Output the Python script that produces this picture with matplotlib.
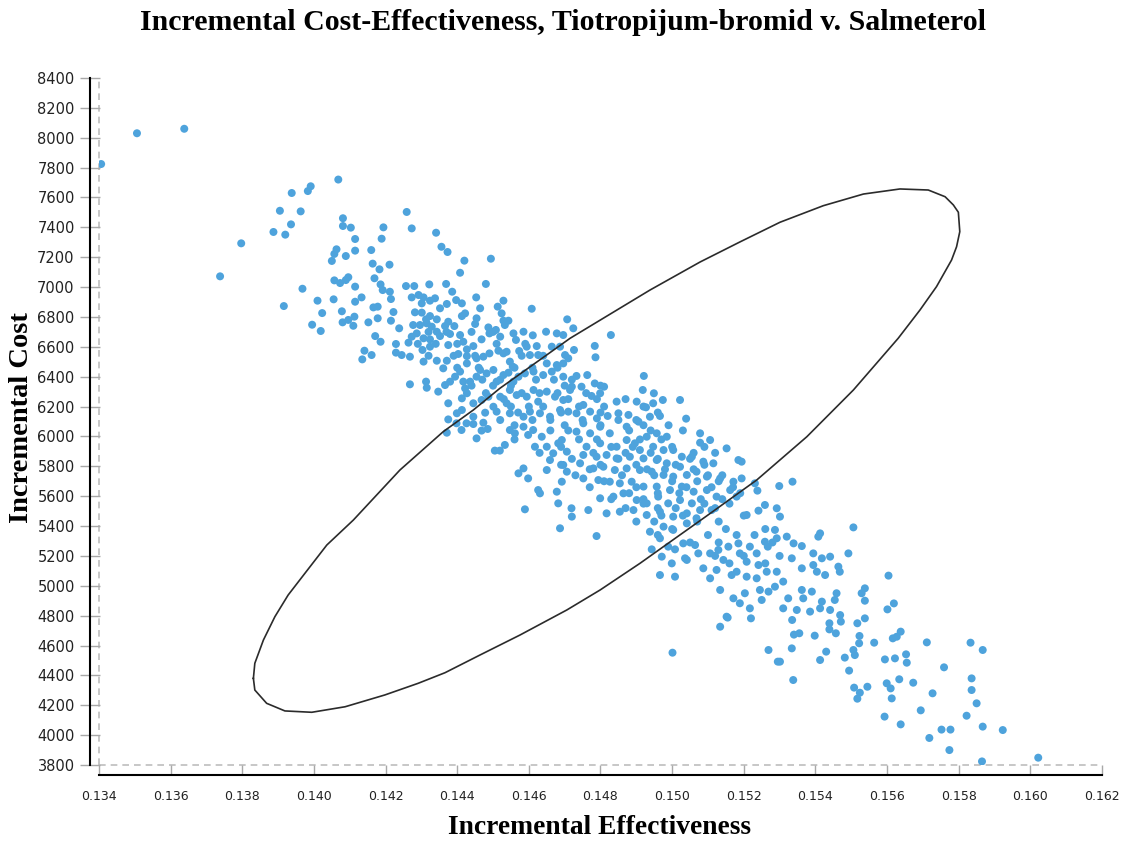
import matplotlib.pyplot as plt

# upper-left tail of the bootstrap cloud
tail_eff = [0.13406, 0.13506, 0.13638, 0.14068, 0.13991, 0.13983, 0.13938, 0.13905, 0.13963, 0.14081,
            0.14081, 0.14103, 0.13936, 0.13887, 0.13920, 0.13797, 0.14115, 0.14063, 0.14057, 0.14050,
            0.14089, 0.14115, 0.13738, 0.14057, 0.14073, 0.14096, 0.14089, 0.14115, 0.13968, 0.13916,
            0.14010, 0.14055, 0.14115, 0.14023, 0.14078, 0.13995, 0.14019, 0.14080, 0.14096, 0.14113,
            0.14110]
tail_cost = [7824, 8030, 8060, 7720, 7675, 7643, 7630, 7511, 7507, 7461,
             7409, 7398, 7420, 7369, 7351, 7293, 7322, 7253, 7222, 7175,
             7208, 7244, 7072, 7045, 7027, 7066, 7047, 7003, 6989, 6873,
             6909, 6918, 6902, 6826, 6838, 6748, 6706, 6764, 6780, 6802,
             6741]

# dense core
core_eff = [0.14259, 0.14194, 0.14273, 0.14341, 0.14189, 0.14160, 0.14356, 0.14373, 0.14420, 0.14494,
            0.14164, 0.14183, 0.14211, 0.14408, 0.14169, 0.14186, 0.14192, 0.14212, 0.14133, 0.14257,
            0.14280, 0.14322, 0.14369, 0.14480, 0.14386, 0.14453, 0.14215, 0.14273, 0.14292, 0.14306,
            0.14324, 0.14338, 0.14301, 0.14352, 0.14371, 0.14397, 0.14413, 0.14464, 0.14513, 0.14529,
            0.14608, 0.14166, 0.14178, 0.14222, 0.14178, 0.14152, 0.14215, 0.14282, 0.14301, 0.14324,
            0.14313, 0.14343, 0.14366, 0.14375, 0.14392, 0.14413, 0.14422, 0.14450, 0.14454, 0.14487,
            0.14524, 0.14529, 0.14543, 0.14238, 0.14277, 0.14296, 0.14315, 0.14329, 0.14343, 0.14171,
            0.14186, 0.14229, 0.14264, 0.14273, 0.14287, 0.14306, 0.14324, 0.14352, 0.14380, 0.14375,
            0.14408, 0.14417, 0.14427, 0.14445, 0.14468, 0.14490, 0.14508, 0.14520, 0.14533, 0.14557,
            0.14564, 0.14585, 0.14611, 0.14622, 0.14648, 0.14664, 0.14678, 0.14696, 0.14707, 0.14687,
            0.14701, 0.14141, 0.14161, 0.14135, 0.14229, 0.14245, 0.14268, 0.14303, 0.14324, 0.14306,
            0.14343, 0.14371, 0.14403, 0.14361, 0.14427, 0.14427, 0.14454, 0.14473, 0.14490, 0.14515,
            0.14529, 0.14538, 0.14547, 0.14555, 0.14573, 0.14594, 0.14603, 0.14626, 0.14650, 0.14678,
            0.14696, 0.14710, 0.14268, 0.14313, 0.14315, 0.14347, 0.14366, 0.14380, 0.14394, 0.14408,
            0.14417, 0.14422, 0.14436, 0.14454, 0.14464, 0.14482, 0.14501, 0.14510, 0.14529, 0.14543,
            0.14557, 0.14571, 0.14589, 0.14613, 0.14640, 0.14664, 0.14696, 0.14375, 0.14413, 0.14427,
            0.14445, 0.14468, 0.14487, 0.14501, 0.14520, 0.14538, 0.14547, 0.14566, 0.14594, 0.14613,
            0.14626, 0.14650, 0.14673, 0.14696, 0.14715, 0.14375, 0.14399, 0.14413, 0.14445, 0.14478,
            0.14510, 0.14547, 0.14585, 0.14603, 0.14631, 0.14659, 0.14687, 0.14710,
            0.14724, 0.14829, 0.14784, 0.14786, 0.14726, 0.14763, 0.14784, 0.14799, 0.14775, 0.14810,
            0.14733, 0.14747, 0.14720, 0.14921, 0.14918, 0.14949, 0.14901, 0.14927, 0.14974, 0.15022,
            0.14947, 0.14845, 0.14850, 0.14820, 0.14878, 0.15039, 0.14966, 0.14752, 0.14733, 0.14771,
            0.14790, 0.14938,
            0.14547, 0.14533, 0.14585, 0.14598, 0.14612, 0.14636, 0.14561, 0.14617, 0.14650, 0.14682,
            0.14668, 0.14706, 0.14692, 0.14659, 0.14650, 0.14585, 0.14598, 0.14571, 0.14626, 0.14631,
            0.14678, 0.14692, 0.14706, 0.14589, 0.14682, 0.14719, 0.14766, 0.14720, 0.14696, 0.14743,
            0.14752, 0.14733, 0.14771, 0.14799, 0.14826, 0.14873, 0.14906, 0.14929, 0.14957, 0.14985,
            0.15078, 0.15106, 0.15152, 0.15078, 0.14761, 0.14799, 0.14845, 0.14873, 0.14896, 0.14910,
            0.14947, 0.14976, 0.15003, 0.15027, 0.15055, 0.15087, 0.15115, 0.15185, 0.14752, 0.14789,
            0.14817, 0.14845, 0.14882, 0.14920, 0.14957, 0.14985, 0.15022, 0.14780, 0.14808, 0.14840,
            0.14873, 0.14910, 0.14943, 0.14976, 0.15003, 0.15041, 0.15068, 0.15097, 0.15134, 0.15171,
            0.14752, 0.14794, 0.14826, 0.14854, 0.14887, 0.14920, 0.14957, 0.14994, 0.15027, 0.15060,
            0.15097, 0.15124, 0.15162, 0.15180, 0.14799, 0.14836, 0.14864, 0.14901, 0.14929, 0.14961,
            0.14989, 0.15022, 0.15055, 0.15078, 0.15110, 0.14817, 0.14854, 0.14892, 0.14929, 0.14966,
            0.15003, 0.15041, 0.15068,
            0.14398, 0.14371, 0.14412, 0.14426, 0.14445, 0.14454, 0.14468, 0.14473, 0.14485, 0.14505,
            0.14519, 0.14789, 0.14687]
core_cost = [7503, 7400, 7393, 7364, 7324, 7248, 7270, 7235, 7177, 7190,
             7157, 7119, 7150, 7096, 7059, 7018, 6980, 6969, 6931, 7007,
             7007, 7018, 7021, 7021, 6969, 6931, 6920, 6931, 6947, 6931,
             6909, 6925, 6891, 6858, 6887, 6913, 6891, 6858, 6869, 6909,
             6855, 6864, 6869, 6833, 6791, 6764, 6775, 6831, 6829, 6806,
             6784, 6784, 6739, 6768, 6739, 6806, 6824, 6753, 6791, 6730,
             6824, 6775, 6775, 6724, 6746, 6746, 6757, 6735, 6701, 6672,
             6634, 6619, 6628, 6668, 6690, 6657, 6650, 6672, 6686, 6612,
             6679, 6634, 6583, 6605, 6650, 6690, 6713, 6668, 6746, 6690,
             6646, 6701, 6677, 6605, 6701, 6601, 6690, 6679, 6784, 6601,
             6545, 6574, 6545, 6516, 6561, 6545, 6534, 6579, 6601, 6501,
             6507, 6507, 6552, 6456, 6538, 6489, 6523, 6534, 6556, 6574,
             6556, 6567, 6501, 6467, 6572, 6601, 6545, 6545, 6489, 6478,
             6489, 6523, 6349, 6367, 6326, 6300, 6344, 6367, 6400, 6434,
             6367, 6322, 6367, 6400, 6445, 6422, 6445, 6367, 6411, 6427,
             6367, 6400, 6422, 6434, 6411, 6434, 6400, 6222, 6255, 6289,
             6222, 6244, 6266, 6199, 6266, 6222, 6311, 6277, 6266, 6311,
             6233, 6300, 6266, 6244, 6311, 6114, 6155, 6177, 6132, 6159,
             6166, 6155, 6132, 6166, 6155, 6132, 6177, 6166,
             6724, 6679, 6606, 6530, 6579, 6411, 6355, 6289, 6271, 6333,
             6405, 6333, 6333, 6405, 6311, 6289, 6233, 6195, 6244, 6244,
             6222, 6233, 6155, 6137, 6144, 6119, 6137, 6211, 6155, 6166,
             6121, 6132,
             6043, 5943, 6065, 6010, 6043, 5998, 6021, 5931, 5931, 5954,
             5887, 5898, 5976, 5842, 5775, 5786, 5719, 5753, 5641, 5619,
             5630, 5697, 5764, 5512, 5552, 5519, 5507, 5463, 5809, 5820,
             6088, 6032, 6021, 6065, 6021, 6065, 6099, 5998, 6021, 5998,
             6021, 5976, 5920, 5958, 5931, 5954, 5931, 5976, 5954, 5909,
             5931, 5909, 5909, 5864, 5864, 5831, 5820, 5842, 5876, 5864,
             5876, 5853, 5864, 5853, 5842, 5820, 5797, 5786, 5797, 5775,
             5786, 5775, 5764, 5742, 5731, 5742, 5764, 5731, 5719, 5697,
             5719, 5708, 5697, 5686, 5697, 5664, 5664, 5641, 5664, 5630,
             5641, 5597, 5641, 5597, 5586, 5597, 5619, 5574, 5552, 5597,
             5552, 5574, 5552, 5507, 5507, 5485, 5496, 5507, 5474, 5496,
             5463, 5485, 5452,
             6088, 6025, 6043, 6088, 6083, 5987, 6039, 6092, 6050, 5905,
             5905, 5333, 5385]

# extra points where the core is packed solid
pack_eff = [0.1447, 0.1452, 0.1462, 0.1467, 0.1472,
            0.1448, 0.1458, 0.1463, 0.1468, 0.1476,
            0.1455, 0.1460, 0.1464, 0.1474, 0.1481, 0.1492,
            0.1452, 0.1461, 0.1466, 0.1475, 0.1485, 0.1490,
            0.1466, 0.1471, 0.1488, 0.1494, 0.1503,
            0.1456, 0.1474, 0.1479, 0.1491, 0.1497,
            0.1463, 0.1478, 0.1487, 0.1494, 0.1506, 0.1512,
            0.1469, 0.1480, 0.1490, 0.1501, 0.1509,
            0.1473, 0.1486, 0.1495, 0.1510, 0.1514,
            0.1477, 0.1490, 0.1504, 0.1511, 0.1517,
            0.1483, 0.1492, 0.1508, 0.1514,
            0.1487, 0.1496, 0.1501, 0.1512,
            0.1490, 0.1495, 0.1507, 0.1513,
            0.1496, 0.1510, 0.1518, 0.1523,
            0.1512, 0.1520, 0.1530,
            0.1432, 0.1437, 0.1444, 0.1450,
            0.1429, 0.1434, 0.1440, 0.1451, 0.1459,
            0.1432, 0.1439, 0.1445, 0.1458, 0.1464,
            0.1440, 0.1446, 0.1456, 0.1461, 0.1468,
            0.1444, 0.1450, 0.1455, 0.1470, 0.1480,
            0.1453, 0.1471, 0.1479, 0.1487,
            0.1457, 0.1469, 0.1480, 0.1496,
            0.1456, 0.1470, 0.1480, 0.1492, 0.1499,
            0.1469, 0.1483, 0.1489, 0.1500, 0.1509,
            0.1472, 0.1485, 0.1496, 0.1505,
            0.1477, 0.1493, 0.1498, 0.1506,
            0.1481, 0.1500, 0.1507, 0.1513,
            0.1488, 0.1496, 0.1502, 0.1519,
            0.1492, 0.1509, 0.1516,
            0.1497, 0.1503, 0.1520,
            0.1500, 0.1515, 0.1526,
            0.1505, 0.1513, 0.1528,
            0.1516, 0.1526]
pack_cost = [6380, 6380, 6380, 6380, 6380,
             6290, 6290, 6290, 6290, 6290,
             6200, 6200, 6200, 6200, 6200, 6200,
             6110, 6110, 6110, 6110, 6110, 6110,
             6040, 6040, 6040, 6040, 6040,
             5980, 5980, 5980, 5980, 5980,
             5890, 5890, 5890, 5890, 5890, 5890,
             5810, 5810, 5810, 5810, 5810,
             5740, 5740, 5740, 5740, 5740,
             5660, 5660, 5660, 5660, 5660,
             5580, 5580, 5580, 5580,
             5520, 5520, 5520, 5520,
             5430, 5430, 5430, 5430,
             5340, 5340, 5340, 5340,
             5200, 5200, 5200,
             6700, 6700, 6700, 6700,
             6620, 6620, 6620, 6620, 6620,
             6540, 6540, 6540, 6540, 6540,
             6460, 6460, 6460, 6460, 6460,
             6340, 6340, 6340, 6340, 6340,
             6250, 6250, 6250, 6250,
             6160, 6160, 6160, 6160,
             6075, 6075, 6075, 6075, 6075,
             5930, 5930, 5930, 5930, 5930,
             5850, 5850, 5850, 5850,
             5780, 5780, 5780, 5780,
             5700, 5700, 5700, 5700,
             5620, 5620, 5620, 5620,
             5550, 5550, 5550,
             5470, 5470, 5470,
             5380, 5380, 5380,
             5290, 5290, 5290,
             5150, 5150]

# lower-right tail
low_eff = [0.15194, 0.15194, 0.15231, 0.15238, 0.15299, 0.15336, 0.15259, 0.15241, 0.15208, 0.15292,
           0.15301, 0.14938, 0.14976, 0.15003, 0.15041, 0.14966, 0.14989, 0.15031, 0.15064, 0.14943,
           0.14971, 0.15008, 0.14999, 0.15036, 0.15073, 0.15106, 0.15087, 0.15129, 0.15143, 0.15157,
           0.15185, 0.15189, 0.15217, 0.15236, 0.15259, 0.15267, 0.15287, 0.15292, 0.15320, 0.15339,
           0.15362, 0.15408, 0.15413, 0.15506, 0.15492, 0.15441, 0.15394, 0.15418, 0.15464, 0.15468,
           0.15362, 0.15394, 0.15334, 0.15292, 0.15264, 0.15241, 0.15208, 0.15180, 0.15166, 0.15208,
           0.15236, 0.15124, 0.15106, 0.15041, 0.15008, 0.14966, 0.15134, 0.15171, 0.15189, 0.15203,
           0.15217, 0.15245, 0.15269, 0.15287, 0.15310, 0.15324, 0.15362, 0.15366, 0.15390, 0.15404,
           0.15427, 0.15418, 0.15459, 0.15454, 0.15529, 0.15538, 0.15538, 0.15310, 0.15348, 0.15385,
           0.15413, 0.15441, 0.15469, 0.15152, 0.15250,
           0.15604, 0.15619, 0.15601, 0.15340, 0.15355, 0.15398, 0.15457, 0.15334, 0.15301, 0.15430,
           0.15413, 0.15482, 0.15506, 0.15510, 0.15523, 0.15522, 0.15517, 0.15564, 0.15616, 0.15627,
           0.15638, 0.15594, 0.15622, 0.15653, 0.15655, 0.15711, 0.15759, 0.15833, 0.15867, 0.15494,
           0.15338, 0.15508, 0.15524, 0.15545, 0.15517, 0.15599, 0.15610, 0.15613, 0.15634, 0.15673,
           0.15727, 0.15836, 0.15836, 0.15538, 0.15439, 0.15471, 0.15439,
           0.15593, 0.15638, 0.15694, 0.15718, 0.15752, 0.15777, 0.15774, 0.15822, 0.15850, 0.15867,
           0.15923, 0.15865, 0.16022,
           0.15001, 0.15134, 0.15155, 0.15220, 0.15335, 0.15269, 0.15295]
low_cost = [5831, 5719, 5686, 5637, 5668, 5697, 5541, 5503, 5474, 5519,
            5463, 5362, 5396, 5374, 5418, 5318, 5262, 5284, 5273, 5244,
            5195, 5244, 5150, 5184, 5217, 5217, 5117, 5240, 5173, 5262,
            5284, 5217, 5262, 5217, 5295, 5262, 5374, 5318, 5329, 5284,
            5266, 5329, 5351, 5391, 5217, 5195, 5217, 5184, 5128, 5094,
            5117, 5139, 5184, 5094, 5094, 5139, 5161, 5094, 5072, 5061,
            5050, 5106, 5050, 5173, 5061, 5072, 4972, 4916, 4883, 4950,
            4849, 4972, 4961, 4994, 5028, 4916, 4972, 4916, 4961, 5094,
            5072, 4894, 4950, 4905, 4950, 4983, 4900, 4849, 4838, 4827,
            4849, 4838, 4804, 4793, 4905,
            5068, 4882, 4842, 4673, 4682, 4666, 4682, 4581, 4492, 4559,
            4503, 4519, 4570, 4536, 4664, 4615, 4749, 4619, 4648, 4659,
            4693, 4507, 4514, 4541, 4485, 4621, 4454, 4619, 4570, 4432,
            4369, 4318, 4284, 4324, 4244, 4347, 4313, 4246, 4374, 4351,
            4280, 4380, 4302, 4782, 4708, 4760, 4749,
            4124, 4072, 4166, 3981, 4037, 4037, 3900, 4130, 4213, 4057,
            4034, 3824, 3849,
            4552, 4726, 4787, 4782, 4771, 4570, 4492]

# confidence ellipse outline (vertices)
ell_eff = [0.13831, 0.13835, 0.13859, 0.13891, 0.13928, 0.13975, 0.14036, 0.14110, 0.14240, 0.14361,
           0.14445, 0.14519, 0.14715, 0.14938, 0.15078, 0.15189, 0.15301, 0.15422, 0.15534, 0.15636,
           0.15715, 0.15762, 0.15785, 0.15799, 0.15803, 0.15794, 0.15780, 0.15738, 0.15692, 0.15631,
           0.15506, 0.15376, 0.15236, 0.15096, 0.14910, 0.14799, 0.14706, 0.14575, 0.14464, 0.14366,
           0.14291, 0.14198, 0.14087, 0.13994, 0.13919, 0.13868, 0.13835, 0.13831]
ell_cost = [4380, 4481, 4637, 4793, 4938, 5084, 5273, 5440, 5775, 6032,
            6177, 6322, 6657, 6980, 7168, 7302, 7434, 7545, 7623, 7657,
            7650, 7605, 7550, 7501, 7371, 7270, 7181, 7003, 6847, 6657,
            6311, 5998, 5708, 5467, 5150, 4972, 4838, 4670, 4537, 4418,
            4347, 4269, 4190, 4153, 4162, 4213, 4302, 4380]

x_ticks = [0.134, 0.136, 0.138, 0.140, 0.142, 0.144, 0.146, 0.148, 0.150,
           0.152, 0.154, 0.156, 0.158, 0.160, 0.162]
y_ticks = list(range(3800, 8401, 200))

W, H = 1127, 841
fig = plt.figure(figsize=(W / 100, H / 100), dpi=100)
ax = fig.add_axes([99 / W, 1 - 765 / H, 1003 / W, 687 / H])

dot = '#4ea3dc'
for xs, ys in [(tail_eff, tail_cost), (core_eff, core_cost), (pack_eff, pack_cost), (low_eff, low_cost)]:
    ax.scatter(xs, ys, s=33, color=dot, edgecolors='none', zorder=3)
ax.plot(ell_eff, ell_cost, color='#2b2b2b', lw=1.2, zorder=4)

ax.set_xlim(0.134, 0.162)
ax.set_ylim(3800, 8400)
ax.set_xticks(x_ticks)
ax.set_xticklabels([f'{t:.3f}' for t in x_ticks])
ax.set_yticks(y_ticks)

# dashed guide lines at the plot edge, solid axis lines set outward
ax.axvline(0.134, color='#bdbdbd', ls=(0, (4, 3)), lw=1.2, zorder=1, clip_on=False)
ax.axhline(3800, color='#bdbdbd', ls=(0, (4, 3)), lw=1.2, zorder=1, clip_on=False)
for side in ['top', 'right']:
    ax.spines[side].set_visible(False)
ax.spines['left'].set_position(('outward', 6.5))
ax.spines['bottom'].set_position(('outward', 7))
for side in ['left', 'bottom']:
    ax.spines[side].set_color('black')
    ax.spines[side].set_linewidth(1.5)

ax.tick_params(axis='x', direction='in', length=7, width=1, color='#a8a8a8', pad=11,
               labelsize=9, labelcolor='#222222')
ax.tick_params(axis='y', direction='inout', length=14, width=1, color='#a8a8a8', pad=4,
               labelsize=10.5, labelcolor='#222222')

serif = 'Liberation Serif'
fig.text(0.5, 1 - 23 / H, 'Incremental Cost-Effectiveness, Tiotropijum-bromid v. Salmeterol',
         ha='center', va='center', fontsize=21.5, fontweight='bold', family=serif)
fig.text(600 / W, 1 - 828 / H, 'Incremental Effectiveness', ha='center', va='center',
         fontsize=19.8, fontweight='bold', family=serif)
fig.text(22 / W, 1 - 418 / H, 'Incremental Cost', ha='center', va='center', rotation=90,
         fontsize=20.5, fontweight='bold', family=serif)

fig.savefig('out.png', dpi=100)
